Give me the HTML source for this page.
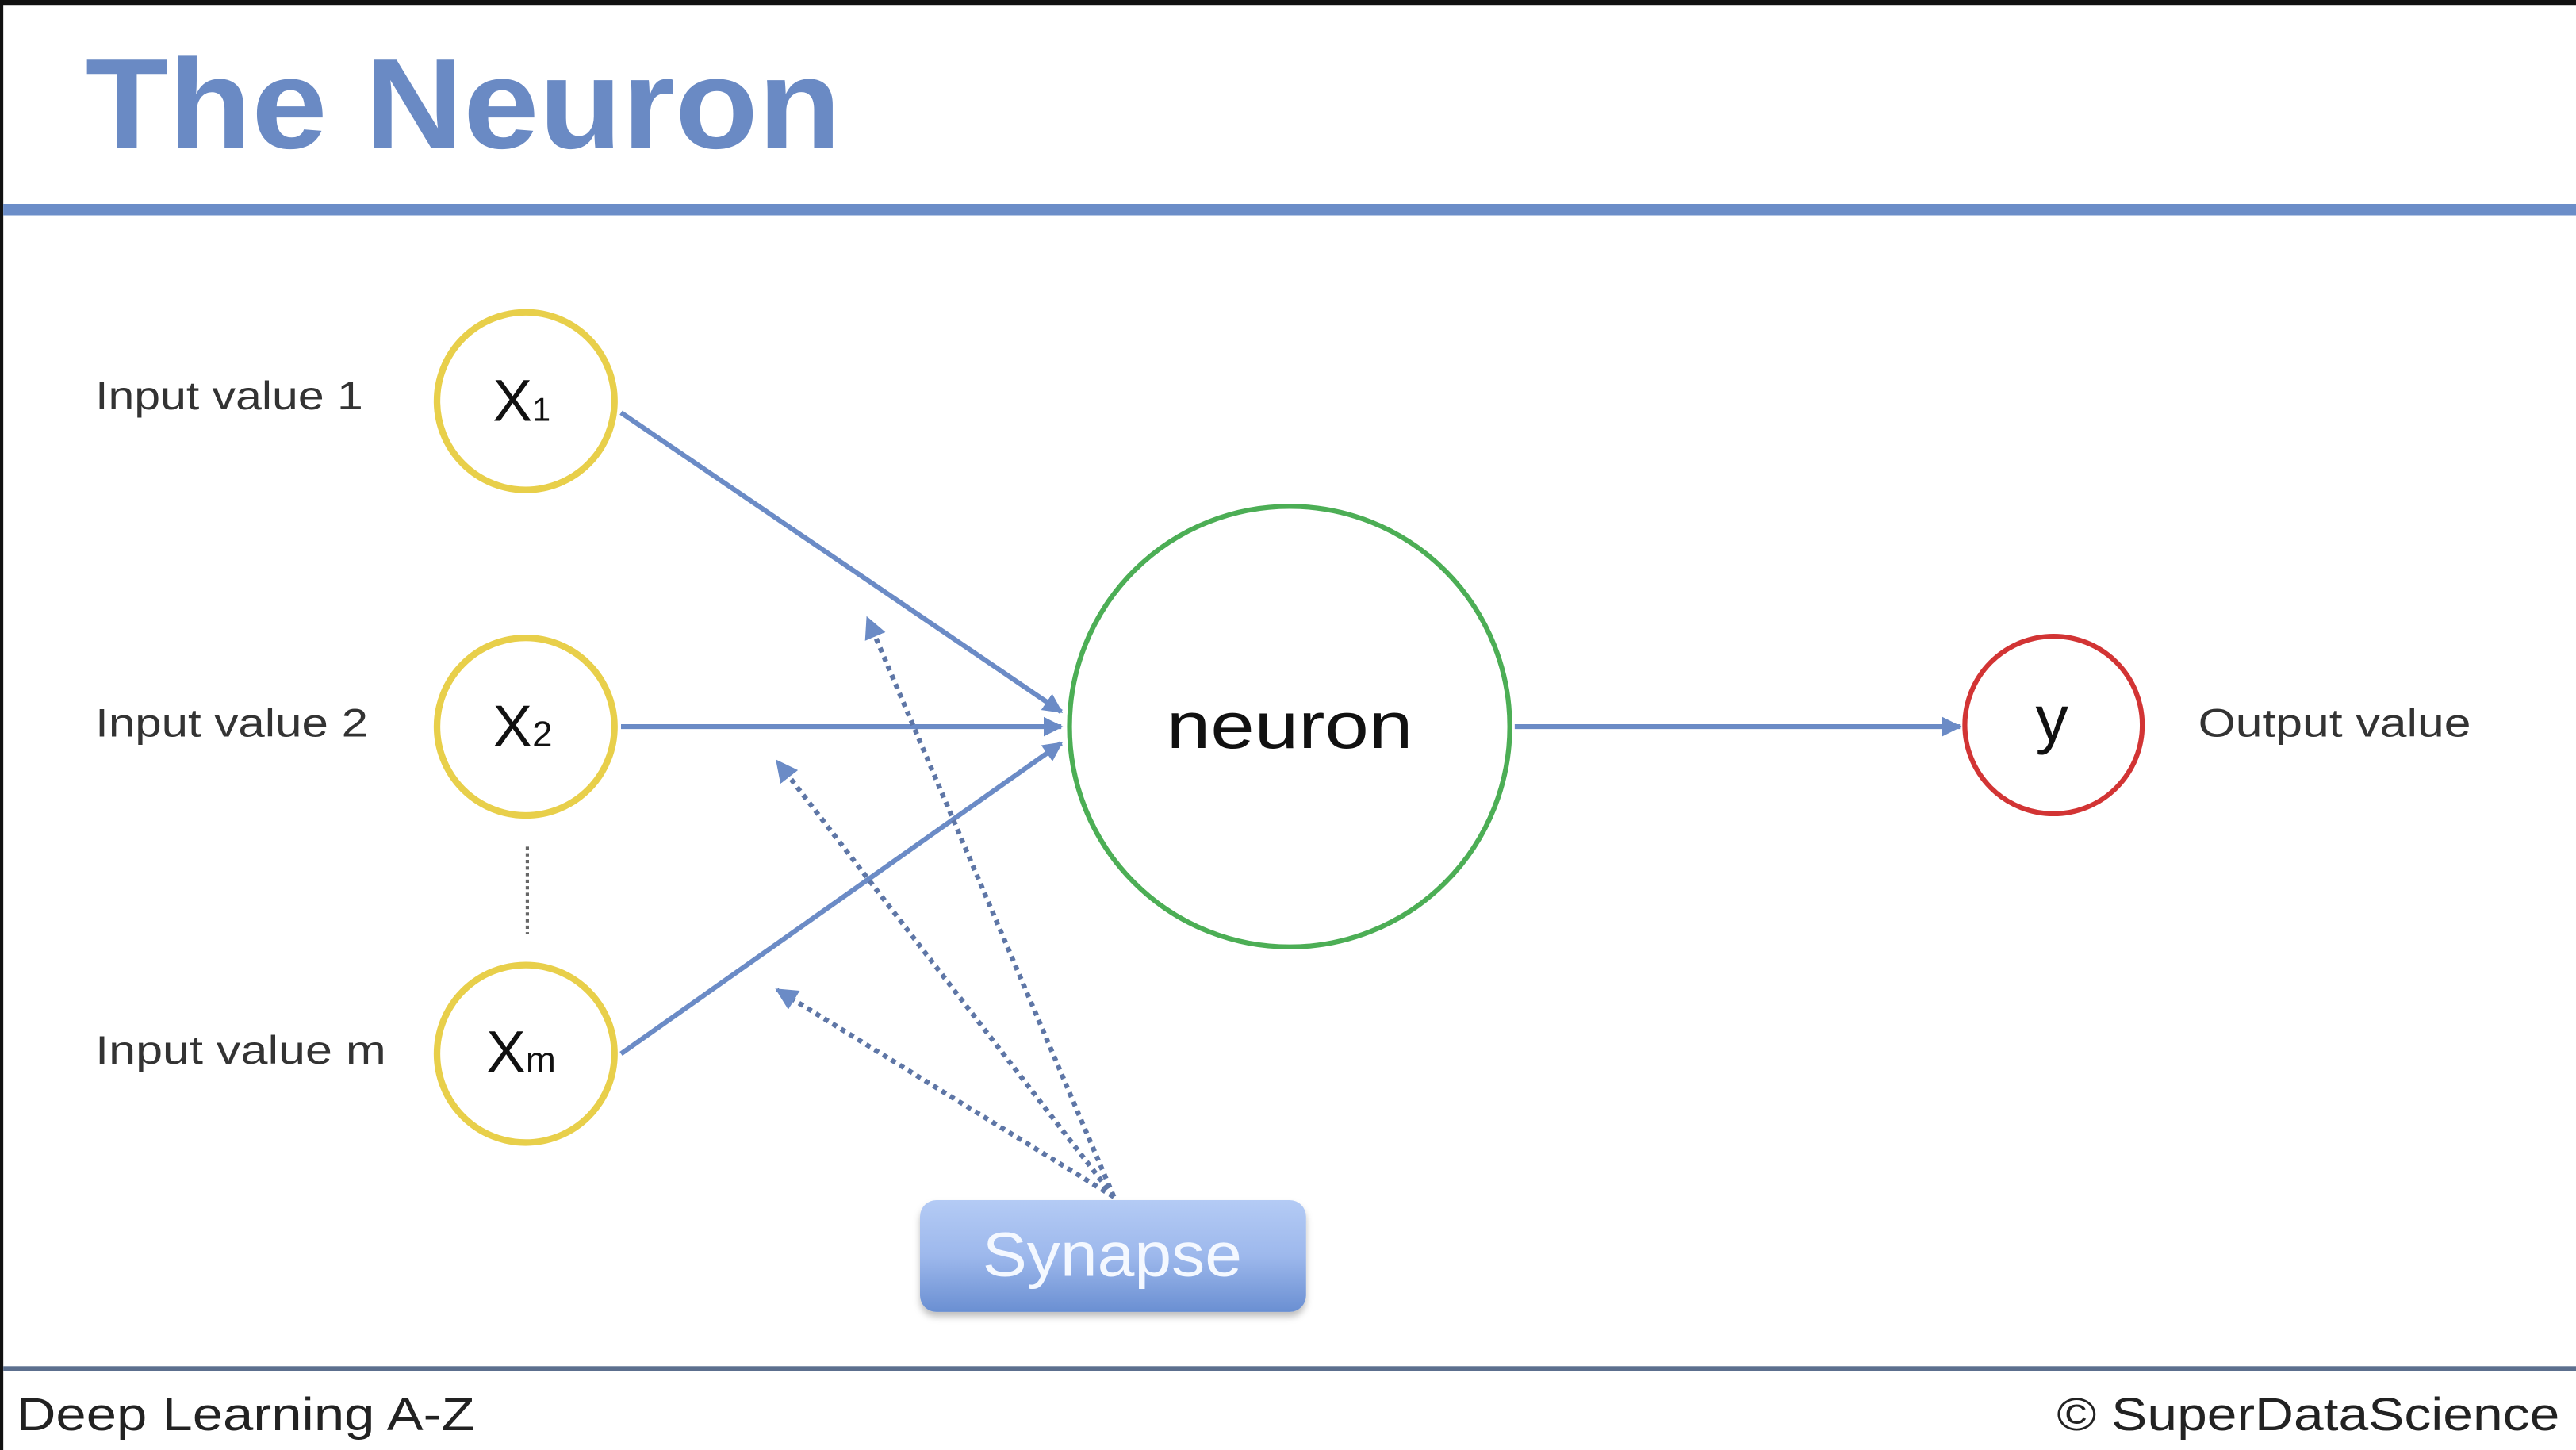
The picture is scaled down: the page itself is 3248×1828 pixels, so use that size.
<!DOCTYPE html>
<html><head><meta charset="utf-8"><style>
html,body{margin:0;padding:0;background:#fff;}
svg{display:block;}
</style></head><body>
<svg width="3248" height="1828" viewBox="0 0 1568 882" preserveAspectRatio="none" xmlns="http://www.w3.org/2000/svg">
<defs>
<linearGradient id="g" x1="0" y1="0" x2="0" y2="1">
<stop offset="0" stop-color="#b4cbf5"/><stop offset="0.5" stop-color="#9db8ec"/><stop offset="1" stop-color="#6a8fd2"/>
</linearGradient>
<marker id="a" viewBox="0 0 10 10" refX="9" refY="5" markerWidth="4" markerHeight="4" orient="auto"><path d="M0,0 L10,5 L0,10 z" fill="#6b8bc6"/></marker>
<marker id="d" viewBox="0 0 10 10" refX="9" refY="5" markerWidth="4.5" markerHeight="4.5" orient="auto"><path d="M0,0 L10,5 L0,10 z" fill="#6b8bc6"/></marker>
<filter id="s" x="-10%" y="-10%" width="120%" height="140%"><feDropShadow dx="0" dy="3" stdDeviation="2" flood-color="#000" flood-opacity="0.25"/></filter>
</defs>
<rect x="0" y="0" width="1568" height="882" fill="#fff"/>
<rect x="0" y="0" width="1568" height="3" fill="#111"/>
<rect x="0" y="0" width="2" height="882" fill="#111"/>
<text x="52" y="90" font-family="Liberation Sans, sans-serif" font-weight="bold" font-size="78" fill="#6a8ac4" textLength="460" lengthAdjust="spacingAndGlyphs">The Neuron</text>
<rect x="2" y="124" width="1566" height="7" fill="#6b8dc8"/>
<rect x="2" y="831" width="1566" height="3" fill="#5c6f8e"/>
<text x="10" y="870" font-family="Liberation Sans, sans-serif" font-size="28" fill="#222" textLength="279" lengthAdjust="spacingAndGlyphs">Deep Learning A-Z</text>
<text x="1252" y="870" font-family="Liberation Sans, sans-serif" font-size="28" fill="#222" textLength="306" lengthAdjust="spacingAndGlyphs">© SuperDataScience</text>

<g font-family="Liberation Sans, sans-serif" font-size="24" fill="#333">
<text x="58" y="249" textLength="163" lengthAdjust="spacingAndGlyphs">Input value 1</text>
<text x="58" y="448" textLength="166" lengthAdjust="spacingAndGlyphs">Input value 2</text>
<text x="58" y="647" textLength="177" lengthAdjust="spacingAndGlyphs">Input value m</text>
<text x="1338" y="448" textLength="166" lengthAdjust="spacingAndGlyphs">Output value</text>
</g>

<g stroke="#6b8bc6" stroke-width="3" fill="none">
<line x1="378" y1="251" x2="646" y2="433" marker-end="url(#a)"/>
<line x1="378" y1="442" x2="646" y2="442" marker-end="url(#a)"/>
<line x1="378" y1="641" x2="646" y2="452" marker-end="url(#a)"/>
<line x1="922" y1="442" x2="1193" y2="442" marker-end="url(#a)"/>
</g>
<line x1="321" y1="515" x2="321" y2="568" stroke="#666" stroke-width="2" stroke-dasharray="2,2"/>
<g stroke="#5e76a6" stroke-width="3" fill="none" stroke-dasharray="3,3">
<line x1="678" y1="728" x2="528" y2="376" marker-end="url(#d)"/>
<line x1="678" y1="728" x2="473" y2="463" marker-end="url(#d)"/>
<line x1="678" y1="728" x2="473" y2="602" marker-end="url(#d)"/>
</g>

<g fill="#fff" stroke="#e8cf4a" stroke-width="4">
<circle cx="320" cy="244" r="54"/>
<circle cx="320" cy="442" r="54"/>
<circle cx="320" cy="641" r="54"/>
</g>
<circle cx="785" cy="442" r="134" fill="#fff" stroke="#4cae55" stroke-width="3"/>
<circle cx="1250" cy="441" r="54" fill="#fff" stroke="#d23434" stroke-width="3"/>

<g font-family="Liberation Sans, sans-serif" fill="#111">
<text x="300" y="256" font-size="36">X<tspan font-size="20">1</tspan></text>
<text x="300" y="454" font-size="36">X<tspan font-size="22">2</tspan></text>
<text x="296" y="652" font-size="36">X<tspan font-size="22">m</tspan></text>
<text x="710" y="455" font-size="40" textLength="150" lengthAdjust="spacingAndGlyphs">neuron</text>
<text x="1249" y="451" font-size="40" text-anchor="middle">y</text>
</g>

<rect x="560" y="730" width="235" height="68" rx="10" fill="url(#g)" filter="url(#s)"/>
<text x="598" y="776" font-family="Liberation Sans, sans-serif" font-size="38" fill="#f4f8ff" textLength="158" lengthAdjust="spacingAndGlyphs">Synapse</text>
</svg>
</body></html>
